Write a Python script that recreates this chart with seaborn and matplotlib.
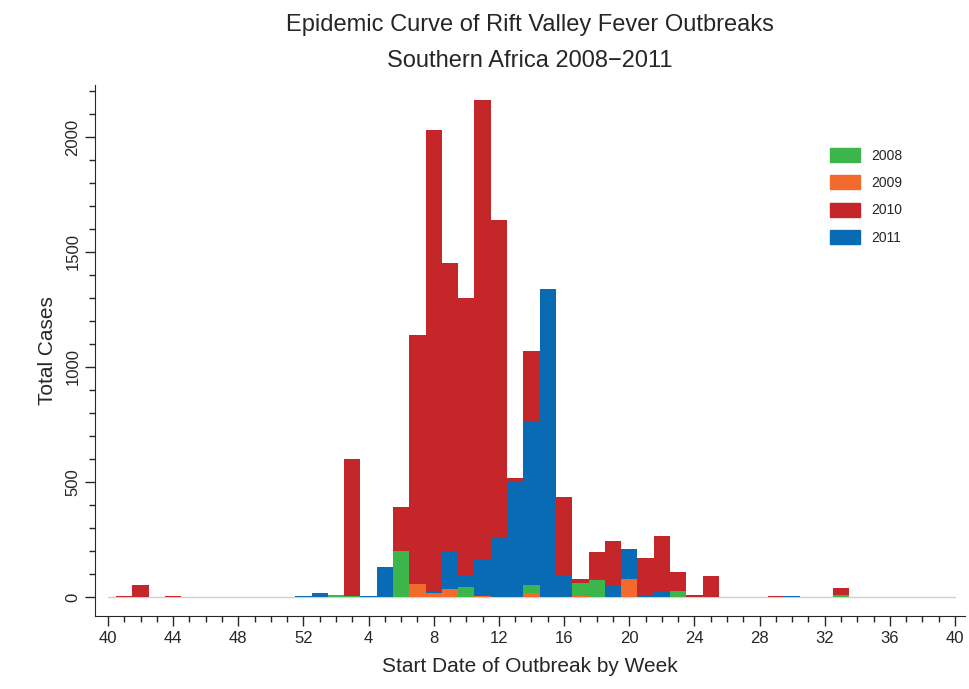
import numpy as np
import pandas as pd
import matplotlib
matplotlib.use("Agg")
import matplotlib.pyplot as plt
import seaborn as sns

# weeks 40..52 of year one, then 1..40 of the next (53 positions)
weeks = list(range(40, 53)) + list(range(1, 41))
pos = np.arange(len(weeks))

def series(d):
    v = np.zeros(len(weeks))
    for p, val in d.items():
        v[p] = val
    return v

cases_2010 = series({1: 5, 2: 50, 4: 3, 15: 600, 18: 390, 19: 1140, 20: 2030, 21: 1450,
                     22: 1300, 23: 2160, 24: 1640, 25: 515, 26: 1070, 28: 435, 29: 80,
                     30: 195, 31: 245, 33: 170, 34: 265, 35: 107, 36: 8, 37: 92,
                     41: 3, 45: 40})
cases_2011 = series({12: 3, 13: 15, 16: 5, 17: 130, 20: 20, 21: 195, 22: 95, 23: 165,
                     24: 255, 25: 500, 26: 760, 27: 1340, 28: 95, 31: 50, 32: 207,
                     33: 10, 34: 25, 42: 5})
cases_2008 = series({14: 8, 15: 5, 18: 200, 22: 45, 26: 50, 29: 60, 30: 75, 35: 25, 45: 10})
cases_2009 = series({19: 55, 20: 15, 21: 35, 23: 5, 26: 15, 29: 5, 32: 80})

layers = [("2010", cases_2010, "#c4262a"), ("2011", cases_2011, "#0a6bb5"),
          ("2008", cases_2008, "#3cb54a"), ("2009", cases_2009, "#f26a2e")]

sns.set_style("ticks")
plt.rcParams["font.family"] = ["Liberation Sans", "DejaVu Sans"]

fig = plt.figure(figsize=(9.69, 6.89), dpi=100)
ax = fig.add_axes([95 / 969, 1 - 616 / 689, 870 / 969, 531 / 689])

ax.plot([0, 52], [0, 0], color="#d0d0d0", lw=1, zorder=0)
handles = {}
for name, vals, col in layers:
    df = pd.DataFrame({"pos": pos, "cases": vals})
    sns.barplot(data=df, x="pos", y="cases", native_scale=True, width=1.0,
                color=col, saturation=1, linewidth=0, ax=ax)
    handles[name] = plt.Rectangle((0, 0), 1, 1, color=col)

ax.set_xlim(-13 / 16.29, 52 + 10 / 16.29)
ax.set_ylim(-83, 2226)
ax.set_xticks(pos[::4])
ax.set_xticklabels([str(w) for w in weeks[::4]], fontsize=12)
ax.set_xticks(pos, minor=True)
ax.set_yticks([0, 500, 1000, 1500, 2000])
ax.set_yticklabels(["0", "500", "1000", "1500", "2000"], fontsize=12, rotation=90, va="center")
ax.set_yticks(np.arange(0, 2201, 100), minor=True)
ax.tick_params(which="major", length=7, width=1)
ax.tick_params(which="minor", length=4, width=1)
for s in ["top", "right"]:
    ax.spines[s].set_visible(False)
ax.set_xlabel("Start Date of Outbreak by Week", fontsize=15, labelpad=8)
ax.set_ylabel("Total Cases", fontsize=15, labelpad=6)

fig.text(0.547, 0.98, "Epidemic Curve of Rift Valley Fever Outbreaks\nSouthern Africa 2008\u22122011",
         ha="center", va="top", fontsize=17, linespacing=1.85)

order = ["2008", "2009", "2010", "2011"]
ax.legend([handles[k] for k in order], order, loc="upper left", bbox_to_anchor=(0.83, 0.905),
          frameon=False, fontsize=10, handlelength=2.2, handleheight=1.2, labelspacing=0.9)

fig.savefig("out.png", dpi=100)
